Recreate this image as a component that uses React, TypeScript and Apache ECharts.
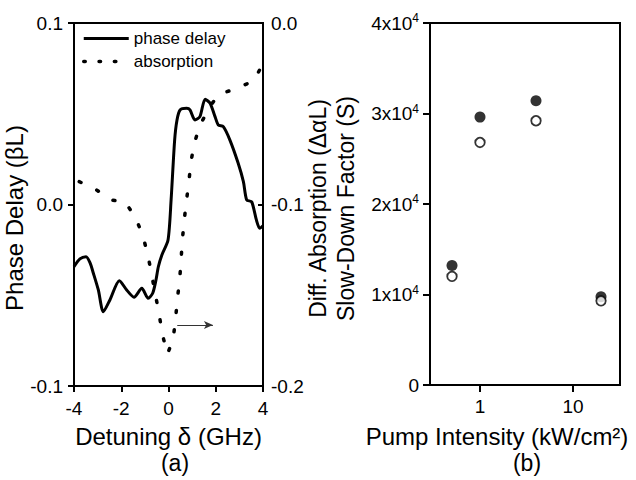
import React, { useEffect, useRef } from 'react';
import * as echarts from 'echarts';

const FONT = "'Liberation Sans', Arial, Helvetica, sans-serif";

// Panel (a): phase delay (left axis) vs detuning
const detuningPhase = [-4.0, -3.75, -3.49, -3.32, -3.18, -2.97, -2.76, -2.48, -2.08, -1.77, -1.46, -1.13, -0.86, -0.67, -0.53, -0.43, -0.28, -0.02, 0.11, 0.26, 0.36, 0.49, 0.77, 0.91, 1.12, 1.33, 1.55, 1.76, 1.97, 2.11, 2.32, 2.6, 2.95, 3.17, 3.31, 3.52, 3.72, 3.86, 4.0];
const phaseDelay = [-0.0343, -0.03, -0.0288, -0.0322, -0.0379, -0.0471, -0.0591, -0.0526, -0.042, -0.0471, -0.0511, -0.0462, -0.0517, -0.0489, -0.0416, -0.0343, -0.0278, -0.0196, 0.0025, 0.0355, 0.0466, 0.0521, 0.053, 0.0521, 0.0466, 0.0484, 0.058, 0.0558, 0.0484, 0.0438, 0.0429, 0.0355, 0.0227, 0.0126, 0.0025, 0.0015, -0.0085, -0.0131, -0.0118];

// Panel (a): differential absorption (right axis) vs detuning
const detuningAbs = [-3.78, -3.04, -2.48, -1.84, -1.38, -1.07, -0.86, -0.71, -0.55, -0.39, -0.26, -0.04, 0.2, 0.3, 0.37, 0.47, 0.53, 0.58, 0.66, 0.75, 0.86, 0.94, 1.09, 1.33, 1.71, 2.12, 2.89, 3.62, 4.0];
const absorption = [-0.0874, -0.092, -0.0975, -0.0985, -0.1076, -0.1179, -0.1287, -0.1388, -0.1499, -0.1609, -0.1716, -0.1824, -0.1738, -0.1631, -0.1526, -0.1419, -0.1311, -0.1204, -0.1095, -0.0988, -0.088, -0.0773, -0.0663, -0.0565, -0.0468, -0.0394, -0.036, -0.0318, -0.0222];

// Arrow pointing to right axis (detuning, absorption)
const arrowStart = [0.37, -0.1664];
const arrowEnd = [1.88, -0.1664];

// Panel (b)
const pumpIntensity = [0.5, 1, 4, 20];
const diffAbsorption = [13200, 29600, 31400, 9760];
const slowDownFactor = [12000, 26800, 29200, 9300];

const panelLabels = ['(a)', '(b)'];

const zip = (xs: number[], ys: number[]) => xs.map((x, i) => [x, ys[i]]);
const fmt1 = (v: number) => (Math.abs(v) < 1e-9 ? '0.0' : v.toFixed(1));

const axisLineStyle = { color: '#000', width: 2 };
const labelBase = { color: '#000', fontFamily: FONT, fontSize: 19 };
const nameBase = { color: '#000', fontFamily: FONT, fontSize: 24 };

export default function App() {
  const ref = useRef<HTMLDivElement>(null);
  useEffect(() => {
    const chart = echarts.init(ref.current!, null, { renderer: 'svg' });
    const option: any = {
      animation: false,
      backgroundColor: '#fff',
      textStyle: { fontFamily: FONT },
      grid: [
        { left: 74, top: 23, width: 189, height: 363, show: true, borderColor: '#000', borderWidth: 2, backgroundColor: 'transparent' },
        { left: 430, top: 23, width: 190, height: 362, show: true, borderColor: '#000', borderWidth: 2, backgroundColor: 'transparent' },
      ],
      legend: {
        orient: 'vertical',
        left: 82,
        top: 30,
        padding: 0,
        itemWidth: 45,
        itemHeight: 14,
        itemGap: 6,
        itemStyle: { opacity: 0, color: 'transparent', borderWidth: 0 },
        textStyle: { color: '#000', fontFamily: FONT, fontSize: 17 },
        data: [
          { name: 'phase delay', lineStyle: { width: 3, color: '#000' } },
          { name: 'absorption', lineStyle: { type: [1.5, 13.8], width: 3.5, cap: 'round', color: '#000' } },
        ],
      },
      xAxis: [
        {
          gridIndex: 0,
          type: 'value',
          min: -4,
          max: 4,
          interval: 2,
          axisLine: { show: true, onZero: false, lineStyle: axisLineStyle },
          axisTick: { show: true, length: 6, lineStyle: axisLineStyle },
          axisLabel: { ...labelBase, margin: 13 },
          splitLine: { show: false },
          name: 'Detuning δ (GHz)',
          nameLocation: 'middle',
          nameGap: 38,
          nameTextStyle: nameBase,
        },
        {
          gridIndex: 1,
          type: 'log',
          logBase: 10,
          min: 0.29,
          max: 32,
          axisLine: { show: true, onZero: false, lineStyle: axisLineStyle },
          axisTick: { show: true, length: 7, lineStyle: axisLineStyle, customValues: [1, 10] },
          axisLabel: { ...labelBase, margin: 12, customValues: [1, 10], formatter: (v: number) => String(v) },
          minorTick: { show: false },
          splitLine: { show: false },
          name: 'Pump Intensity (kW/cm²)',
          nameLocation: 'middle',
          nameGap: 39,
          nameTextStyle: { ...nameBase, padding: [0, 56, 0, 0] },
        },
      ],
      yAxis: [
        {
          gridIndex: 0,
          type: 'value',
          position: 'left',
          min: -0.1,
          max: 0.1,
          interval: 0.1,
          axisLine: { show: true, onZero: false, lineStyle: axisLineStyle },
          axisTick: { show: true, length: 6, lineStyle: axisLineStyle },
          axisLabel: { ...labelBase, margin: 11, formatter: fmt1 },
          splitLine: { show: false },
          name: 'Phase Delay (βL)',
          nameLocation: 'middle',
          nameRotate: 90,
          nameGap: 38,
          nameTextStyle: { ...nameBase, padding: [0, 27, 0, 0] },
        },
        {
          gridIndex: 0,
          type: 'value',
          position: 'right',
          min: -0.2,
          max: 0,
          interval: 0.1,
          axisLine: { show: true, onZero: false, lineStyle: axisLineStyle },
          axisTick: { show: true, inside: true, length: 5, lineStyle: axisLineStyle },
          axisLabel: { ...labelBase, margin: 8, formatter: fmt1 },
          splitLine: { show: false },
        },
        {
          gridIndex: 1,
          type: 'value',
          min: 0,
          max: 40000,
          interval: 10000,
          axisLine: { show: true, onZero: false, lineStyle: axisLineStyle },
          axisTick: { show: true, length: 7, lineStyle: axisLineStyle },
          axisLabel: {
            ...labelBase,
            margin: 11,
            formatter: (v: number) => (v === 0 ? '{a|0}' : `{a|${v / 10000}x10}{s|4}`),
            rich: {
              a: { ...labelBase, lineHeight: 22 },
              s: { color: '#000', fontFamily: FONT, fontSize: 12, lineHeight: 12, verticalAlign: 'top' },
            },
          },
          splitLine: { show: false },
          name: 'Diff. Absorption (ΔαL)\nSlow-Down Factor (S)',
          nameLocation: 'middle',
          nameRotate: 90,
          nameGap: 70,
          nameTextStyle: { ...nameBase, fontSize: 23, lineHeight: 28, padding: [0, 9, 0, 0] },
        },
      ],
      series: [
        {
          name: 'phase delay',
          type: 'line',
          xAxisIndex: 0,
          yAxisIndex: 0,
          data: zip(detuningPhase, phaseDelay),
          symbol: 'none',
          smooth: 0.25,
          lineStyle: { color: '#000', width: 3 },
          itemStyle: { color: '#000' },
        },
        {
          name: 'absorption',
          type: 'line',
          xAxisIndex: 0,
          yAxisIndex: 1,
          data: zip(detuningAbs, absorption),
          symbol: 'none',
          lineStyle: { color: '#000', width: 3.5, type: [2, 17.5], cap: 'round' },
          itemStyle: { color: '#000' },
          markLine: {
            silent: true,
            symbol: ['none', 'arrow'],
            symbolSize: [6, 9],
            label: { show: false },
            lineStyle: { type: 'solid', width: 1, color: '#333' },
            data: [[{ coord: arrowStart }, { coord: arrowEnd }]],
          },
        },
        {
          name: 'Diff. Absorption (ΔαL)',
          type: 'scatter',
          xAxisIndex: 1,
          yAxisIndex: 2,
          data: zip(pumpIntensity, diffAbsorption),
          symbol: 'circle',
          symbolSize: 11,
          itemStyle: { color: '#000' },
        },
        {
          name: 'Slow-Down Factor (S)',
          type: 'scatter',
          xAxisIndex: 1,
          yAxisIndex: 2,
          data: zip(pumpIntensity, slowDownFactor),
          symbol: 'circle',
          symbolSize: 9.5,
          itemStyle: { color: '#fff', borderColor: '#000', borderWidth: 1.8 },
        },
      ],
      graphic: [
        { type: 'text', x: 175, y: 463, style: { text: panelLabels[0], fill: '#000', font: `23px ${FONT}`, align: 'center', verticalAlign: 'middle' } },
        { type: 'text', x: 527, y: 463, style: { text: panelLabels[1], fill: '#000', font: `23px ${FONT}`, align: 'center', verticalAlign: 'middle' } },
      ],
    };
    chart.setOption(option);
    return () => chart.dispose();
  }, []);
  return <div ref={ref} style={{ position: 'absolute', left: 0, top: 0, width: 636, height: 480 }} />;
}
